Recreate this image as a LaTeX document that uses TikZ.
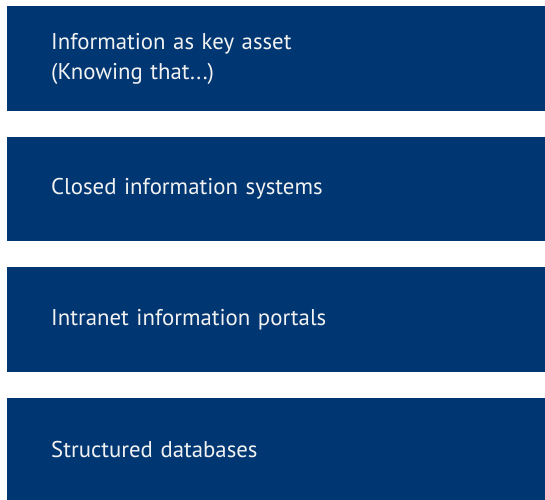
\documentclass[tikz,border=0pt]{standalone}
\usepackage{fontspec}
\setmainfont{PT Sans}
\definecolor{darkblue}{HTML}{003671}
\definecolor{boxtext}{HTML}{F2F2F2}
\begin{document}
\begin{tikzpicture}
  [x=1pt,y=-1pt,every node/.style={anchor=north west,fill=darkblue,text=boxtext,
   minimum height=104.5pt,inner xsep=44pt,text width=450pt,align=left,
   font=\fontsize{22.8}{30}\selectfont}]
  \useasboundingbox (0,0) rectangle (545,499);
  \node (b1) at (7,6)     {Information as key asset\\(Knowing that...)};
  \node (b2) at (7,136.5) {Closed information systems};
  \node (b3) at (7,267)   {Intranet information portals};
  \node (b4) at (7,397.5) {Structured databases};

\end{tikzpicture}
\end{document}
